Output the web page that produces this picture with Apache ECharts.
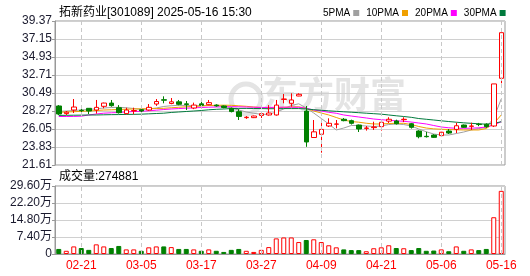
<!DOCTYPE html>
<html>
<head>
<meta charset="utf-8">
<script src="https://cdn.jsdelivr.net/npm/echarts@6/dist/echarts.min.js"></script>
<style>
html, body { margin: 0; padding: 0; background: #fff; }
#chart { width: 530px; height: 276px; }
</style>
</head>
<body>
<div id="chart"></div>
<script>
const dates = [
    '02-18', '02-19', '02-20', '02-21', '02-24', '02-25', '02-26', '02-27', '02-28', '03-03',
    '03-04', '03-05', '03-06', '03-07', '03-10', '03-11', '03-12', '03-13', '03-14', '03-17',
    '03-18', '03-19', '03-20', '03-21', '03-24', '03-25', '03-26', '03-27', '03-28', '03-31',
    '04-01', '04-02', '04-03', '04-07', '04-08', '04-09', '04-10', '04-11', '04-14', '04-15',
    '04-16', '04-17', '04-18', '04-21', '04-22', '04-23', '04-24', '04-25', '04-28', '04-29',
    '04-30', '05-06', '05-07', '05-08', '05-09', '05-12', '05-13', '05-14', '05-15', '05-16',
];
// open, close, low, high
const kData = [
    [28.89, 27.90, 27.78, 29.00], [27.95, 28.12, 27.78, 28.27], [28.39, 28.76, 28.02, 29.75],
    [28.36, 28.31, 27.90, 28.76], [28.60, 28.27, 27.90, 28.64], [28.39, 28.72, 27.95, 29.63],
    [28.85, 29.25, 28.60, 29.30], [29.25, 28.93, 28.80, 29.63], [28.68, 28.06, 27.95, 29.00],
    [27.95, 28.39, 27.86, 28.68], [28.27, 28.33, 27.86, 28.68], [28.43, 28.27, 28.00, 28.68],
    [28.39, 28.72, 28.30, 29.13], [29.13, 29.44, 28.90, 29.75], [29.66, 29.60, 29.22, 30.08],
    [29.20, 29.40, 29.10, 29.87], [29.40, 29.10, 28.97, 29.63], [29.15, 29.08, 28.39, 29.50],
    [28.64, 29.00, 28.50, 29.30], [29.15, 28.97, 28.90, 29.40], [29.05, 29.30, 28.97, 29.63],
    [29.00, 28.90, 28.80, 29.10], [28.89, 28.70, 28.60, 28.95], [28.60, 28.20, 28.10, 28.70],
    [28.18, 27.60, 27.16, 28.50], [27.45, 27.50, 27.30, 27.65], [27.45, 27.65, 27.40, 27.70],
    [27.72, 27.94, 27.40, 27.97], [27.78, 28.02, 27.70, 29.00], [27.78, 29.00, 27.70, 29.63],
    [29.70, 29.75, 29.22, 30.37], [29.22, 29.63, 28.80, 30.45], [30.12, 30.33, 30.10, 30.45],
    [28.27, 24.45, 23.85, 28.89], [25.00, 25.70, 24.95, 27.16], [25.40, 26.00, 23.13, 27.16],
    [26.42, 26.75, 26.30, 27.37], [26.64, 26.67, 26.13, 27.16], [27.25, 27.08, 27.00, 27.40],
    [27.08, 26.75, 26.60, 27.20], [26.54, 26.05, 25.68, 26.60], [26.13, 26.17, 25.85, 26.42],
    [26.22, 26.30, 25.93, 26.95], [26.34, 26.88, 25.85, 27.16], [27.02, 27.25, 26.80, 27.50],
    [27.04, 26.70, 26.60, 27.20], [27.20, 27.25, 26.90, 27.50], [26.70, 26.26, 26.10, 26.80],
    [25.80, 25.10, 24.90, 25.90], [25.15, 25.10, 25.00, 25.70], [25.30, 25.02, 24.95, 25.40],
    [25.23, 25.65, 25.06, 25.70], [25.80, 25.55, 25.43, 26.05], [26.00, 26.45, 25.55, 26.83],
    [26.54, 26.26, 26.20, 26.60], [26.38, 26.42, 25.93, 26.83], [26.64, 26.60, 26.40, 26.80],
    [26.64, 26.34, 26.20, 26.75], [26.42, 31.61, 26.30, 31.61], [32.30, 37.93, 31.69, 37.93],
];
const volumes = [
    22000, 14000, 33000, 26000, 18000, 42000, 33000, 26000, 35000, 20000,
    20000, 14000, 29000, 33000, 33000, 30000, 22000, 22000, 20000, 14000,
    20000, 14000, 9000, 18000, 22000, 14000, 9000, 18000, 30000, 68000,
    72000, 72000, 52000, 61000, 64000, 52000, 38000, 29000, 20000, 17000,
    17000, 12000, 25000, 29000, 38000, 26000, 25000, 17000, 26000, 14000,
    15000, 20000, 12000, 33000, 14000, 20000, 17000, 22000, 160000, 274881,
];
const ma5 = [
    28.23, 28.27, 28.33, 28.39, 28.46, 28.54, 28.64, 28.70, 28.73, 28.67,
    28.58, 28.46, 28.52, 28.64, 28.83, 28.92, 28.97, 28.95, 28.91, 28.92,
    28.95, 28.92, 28.86, 28.64, 28.39, 28.15, 27.99, 27.86, 27.86, 28.15,
    28.52, 28.95, 29.16, 28.64, 28.02, 27.35, 26.67, 25.93, 26.17, 26.48,
    26.48, 26.42, 26.36, 26.42, 26.60, 26.67, 26.60, 26.42, 26.05, 25.71,
    25.43, 25.31, 25.31, 25.49, 25.68, 25.93, 26.11, 26.24, 27.41, 29.76,
];
const ma10 = [
    28.11, 28.15, 28.18, 28.23, 28.27, 28.33, 28.39, 28.42, 28.46, 28.49,
    28.52, 28.54, 28.55, 28.57, 28.60, 28.67, 28.73, 28.79, 28.83, 28.89,
    28.95, 28.97, 28.99, 28.97, 28.91, 28.85, 28.76, 28.70, 28.67, 28.68,
    28.73, 28.76, 28.79, 28.58, 28.27, 28.02, 27.78, 27.47, 27.16, 26.97,
    26.89, 26.76, 26.67, 26.67, 26.73, 26.75, 26.75, 26.60, 26.36, 26.17,
    26.07, 26.02, 25.99, 25.95, 25.93, 25.93, 25.93, 26.11, 26.73, 27.78,
];
const ma20 = [
    27.59, 27.59, 27.60, 27.63, 27.78, 27.90, 28.00, 28.05, 28.09, 28.15,
    28.21, 28.24, 28.29, 28.37, 28.45, 28.52, 28.57, 28.62, 28.66, 28.70,
    28.74, 28.76, 28.79, 28.80, 28.79, 28.76, 28.74, 28.71, 28.71, 28.73,
    28.74, 28.74, 28.73, 28.60, 28.39, 28.27, 28.11, 27.99, 27.78, 27.65,
    27.53, 27.41, 27.28, 27.20, 27.12, 27.06, 27.00, 26.91, 26.79, 26.67,
    26.48, 26.30, 26.20, 26.14, 26.14, 26.15, 26.20, 26.30, 26.54, 26.95,
];
const ma30 = [
    27.72, 27.74, 27.75, 27.76, 27.78, 27.78, 27.80, 27.82, 27.83, 27.85,
    27.86, 27.88, 27.92, 27.96, 28.00, 28.09, 28.15, 28.21, 28.27, 28.33,
    28.42, 28.48, 28.52, 28.57, 28.59, 28.59, 28.58, 28.57, 28.55, 28.55,
    28.57, 28.57, 28.57, 28.52, 28.43, 28.36, 28.29, 28.23, 28.17, 28.12,
    28.06, 28.00, 27.94, 27.88, 27.78, 27.68, 27.59, 27.49, 27.34, 27.25,
    27.16, 27.06, 26.97, 26.89, 26.81, 26.75, 26.69, 26.64, 26.73, 26.95,
];
const priceTicks = [21.61, 23.83, 26.05, 28.27, 30.49, 32.71, 34.93, 37.15, 39.37];
const volTicks = [0, 74000, 148000, 222000, 296000];
const labelDates = ['02-21', '03-05', '03-17', '03-27', '04-09', '04-21', '05-06', '05-16'];

const UP = '#ff0000';
const DOWN = '#008000';
const FONT = "'Liberation Sans', 'Noto Sans CJK SC', sans-serif";

const volData = volumes.map(function (v, i) {
    const up = kData[i][1] >= kData[i][0];
    return {
        value: v,
        itemStyle: up
            ? { color: '#fff', borderColor: UP, borderWidth: 1 }
            : { color: DOWN, borderColor: DOWN, borderWidth: 1 },
    };
});

const vLines = {
    silent: true,
    symbol: ['none', 'none'],
    label: { show: false },
    lineStyle: { color: '#c8c8c8', type: [4, 3], width: 1 },
    emphasis: { disabled: true },
    animation: false,
    data: labelDates.map(function (d) { return { xAxis: d }; }),
};

function maSeries(name, data, color) {
    return {
        name: name,
        type: 'line',
        data: data,
        symbol: 'none',
        smooth: false,
        lineStyle: { width: 1, color: color },
        itemStyle: { color: color },
        z: 3,
    };
}

const priceInterval = Math.round((priceTicks[1] - priceTicks[0]) * 100) / 100;

const chart = echarts.init(document.getElementById('chart'));
chart.setOption({
    animation: false,
    textStyle: { fontFamily: FONT },
    title: {
        text: '拓新药业[301089] 2025-05-16 15:30',
        left: 54,
        top: 2,
        textStyle: { fontSize: 12, fontWeight: 'normal', color: '#000', fontFamily: FONT },
    },
    legend: {
        left: 318,
        top: 3,
        width: 210,
        orient: 'horizontal',
        align: 'right',
        icon: 'rect',
        itemWidth: 6,
        itemHeight: 6,
        itemGap: 7,
        textStyle: { fontSize: 10, color: '#000', fontFamily: FONT, padding: [0, -2, 0, 0] },
        data: ['5PMA', '10PMA', '20PMA', '30PMA'],
    },
    graphic: [
        {
            type: 'text',
            left: 59,
            top: 171,
            style: { text: '成交量:' + volumes[volumes.length - 1], fontSize: 12, fill: '#000', fontFamily: FONT },
        },
        {
            type: 'circle',
            z: -1,
            shape: { cx: 246, cy: 99, r: 15 },
            style: { fill: 'none', stroke: '#e4e4e4', lineWidth: 5 },
        },
        {
            type: 'text',
            left: 262,
            top: 76,
            z: -1,
            style: { text: '东方财富', fontSize: 36, fontWeight: 'bold', fill: '#e4e4e4', fontFamily: "'Noto Sans CJK SC'" },
        },
    ],
    grid: [
        { left: 55, top: 21, width: 450, height: 144, show: true, borderColor: '#999', borderWidth: 1 },
        { left: 55, top: 186, width: 450, height: 68, show: true, borderColor: '#999', borderWidth: 1 },
    ],
    xAxis: [
        {
            type: 'category',
            gridIndex: 0,
            data: dates,
            boundaryGap: true,
            axisLine: { show: false },
            axisTick: { show: false },
            axisLabel: { show: false },
            splitLine: { show: false },
        },
        {
            type: 'category',
            gridIndex: 1,
            data: dates,
            boundaryGap: true,
            axisLine: { lineStyle: { color: '#999' } },
            axisTick: { show: false },
            axisLabel: {
                color: UP,
                fontSize: 12,
                margin: 6,
                fontFamily: FONT,
                interval: function (i, v) { return labelDates.indexOf(v) >= 0; },
            },
            splitLine: { show: false },
        },
    ],
    yAxis: [
        {
            type: 'value',
            gridIndex: 0,
            min: priceTicks[0],
            max: priceTicks[priceTicks.length - 1],
            interval: priceInterval,
            axisLine: { show: true, lineStyle: { color: '#999' } },
            axisTick: { show: true, length: 3, lineStyle: { color: '#999' } },
            axisLabel: {
                color: '#1a1a2e',
                fontSize: 12,
                margin: 3,
                fontFamily: FONT,
                formatter: function (v) { return v.toFixed(2); },
            },
            splitLine: { lineStyle: { color: '#d0d0d0', width: 1 } },
        },
        {
            type: 'value',
            gridIndex: 1,
            min: volTicks[0],
            max: volTicks[volTicks.length - 1],
            interval: volTicks[1] - volTicks[0],
            axisLine: { show: true, lineStyle: { color: '#999' } },
            axisTick: { show: true, length: 3, lineStyle: { color: '#999' } },
            axisLabel: {
                color: '#1a1a2e',
                fontSize: 12,
                margin: 3,
                fontFamily: FONT,
                formatter: function (v) { return v === 0 ? '0' : (v / 10000).toFixed(2) + '万'; },
            },
            splitLine: { lineStyle: { color: '#d0d0d0', width: 1 } },
        },
    ],
    series: [
        {
            type: 'candlestick',
            xAxisIndex: 0,
            yAxisIndex: 0,
            data: kData.map(function (k) { return [k[0], k[1], k[2], k[3]]; }),
            barWidth: 5,
            itemStyle: {
                color: '#fff',
                color0: DOWN,
                borderColor: UP,
                borderColor0: DOWN,
                borderWidth: 1,
            },
            markLine: vLines,
            z: 4,
        },
        maSeries('5PMA', ma5, '#a0a0a0'),
        maSeries('10PMA', ma10, '#f0a000'),
        maSeries('20PMA', ma20, '#ff00ff'),
        maSeries('30PMA', ma30, '#007a3d'),
        {
            type: 'bar',
            xAxisIndex: 1,
            yAxisIndex: 1,
            data: volData,
            barWidth: 5,
            markLine: vLines,
        },
    ],
});
</script>
</body>
</html>
